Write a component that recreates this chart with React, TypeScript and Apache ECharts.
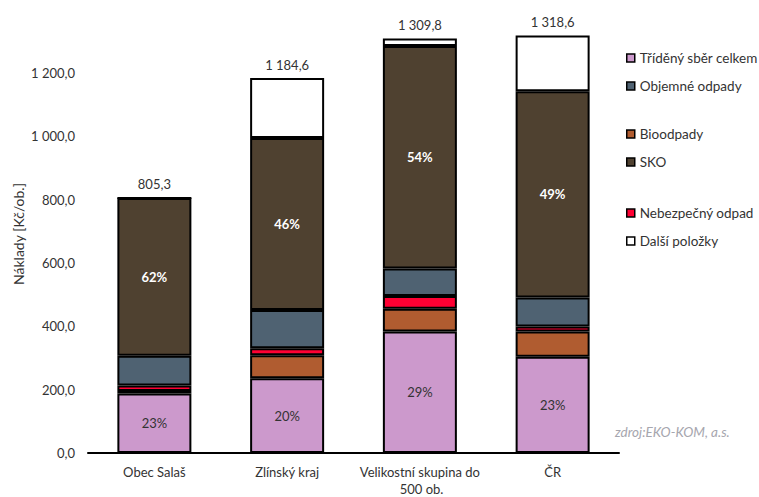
import React, { useEffect, useRef } from 'react';
import * as echarts from 'echarts';

const categories = ['Obec Salaš', 'Zlínský kraj', 'Velikostní skupina do 500 ob.', 'ČR'];
const tridenySber = [188, 236.5, 384, 304];
const bioodpady = [8, 72.5, 72, 80];
const nebezpecny = [17, 22, 40, 16];
const objemne = [94, 121, 87, 91];
const sko = [498.3, 543, 702.8, 652];
const dalsi = [0, 189.6, 24, 175.6];
const totals = [805.3, 1184.6, 1309.8, 1318.6];
const yTickValues = [0, 200, 400, 600, 800, 1000, 1200];

const FONT = 'Lato';
const TEXT = '#333333';

function fmt(v: number): string {
  const s = v.toFixed(1);
  const [i, d] = s.split('.');
  const withSp = i.replace(/\B(?=(\d{3})+(?!\d))/g, ' ');
  return withSp + ',' + d;
}

function pct(arr: number[]) {
  return (p: any) => Math.round((arr[p.dataIndex] / totals[p.dataIndex]) * 100) + '%';
}

export default function App() {
  const ref = useRef<HTMLDivElement>(null);
  useEffect(() => {
    if (!ref.current) return;
    const chart = echarts.init(ref.current, null, { renderer: 'svg' });
    const border = { borderColor: '#000', borderWidth: 2 };
    const base = {
      type: 'bar',
      stack: 'total',
      barWidth: 74,
    };
    const legendCommon = {
      orient: 'vertical',
      left: 626,
      padding: 0,
      itemWidth: 8,
      itemHeight: 8,
      itemGap: 14,
      icon: 'rect',
      itemStyle: { borderColor: '#000', borderWidth: 1.5 },
      textStyle: { fontFamily: FONT, fontSize: 13.5, color: TEXT, lineHeight: 14, padding: [0, 0, 0, 0] },
      selectedMode: false,
    };
    chart.setOption({
      animation: false,
      backgroundColor: '#fff',
      textStyle: { fontFamily: FONT },
      grid: { left: 88, right: 140, top: 32, height: 425.6, containLabel: false },
      legend: [
        { ...legendCommon, top: 51, data: ['Tříděný sběr celkem', 'Objemné odpady'] },
        { ...legendCommon, top: 127, data: ['Bioodpady', 'SKO'] },
        { ...legendCommon, top: 206, data: ['Nebezpečný odpad', 'Další položky'] },
      ],
      xAxis: {
        type: 'category',
        data: categories,
        axisLine: { lineStyle: { color: '#000', width: 2 } },
        axisTick: { show: false },
        axisLabel: {
          fontFamily: FONT,
          fontSize: 13,
          color: TEXT,
          margin: 10,
          width: 132,
          overflow: 'break',
          lineHeight: 17,
          interval: 0,
        },
      },
      yAxis: {
        type: 'value',
        min: 0,
        max: 1330,
        interval: 200,
        splitLine: { show: false },
        axisLine: { show: false },
        axisTick: { show: false },
        axisLabel: {
          fontFamily: FONT,
          fontSize: 13,
          color: TEXT,
          margin: 13,
          formatter: (v: number) => (yTickValues.indexOf(v) >= 0 ? fmt(v) : ''),
        },
      },
      series: [
        {
          ...base,
          name: 'Tříděný sběr celkem',
          data: tridenySber,
          itemStyle: { color: '#CC99CC', ...border },
          label: {
            show: true,
            position: 'inside',
            formatter: pct(tridenySber),
            color: TEXT,
            fontFamily: FONT,
            fontSize: 13,
          },
        },
        { ...base, name: 'Bioodpady', data: bioodpady, itemStyle: { color: '#B05C30', ...border } },
        { ...base, name: 'Nebezpečný odpad', data: nebezpecny, itemStyle: { color: '#FF0033', ...border } },
        { ...base, name: 'Objemné odpady', data: objemne, itemStyle: { color: '#4F6272', ...border } },
        {
          ...base,
          name: 'SKO',
          data: sko,
          itemStyle: { color: '#4F4130', ...border },
          label: {
            show: true,
            position: 'inside',
            formatter: pct(sko),
            color: '#fff',
            fontWeight: 'bold',
            fontFamily: FONT,
            fontSize: 13,
          },
        },
        {
          ...base,
          name: 'Další položky',
          data: dalsi,
          itemStyle: { color: '#FFFFFF', ...border },
          label: {
            show: true,
            position: 'top',
            distance: 7,
            formatter: (p: any) => fmt(totals[p.dataIndex]),
            color: TEXT,
            fontFamily: FONT,
            fontSize: 13,
          },
        },
      ],
      graphic: [
        {
          type: 'text',
          x: 18,
          y: 234,
          rotation: Math.PI / 2,
          style: {
            text: 'Náklady [Kč/ob.]',
            fontFamily: FONT,
            fontSize: 14,
            fill: TEXT,
            align: 'center',
            verticalAlign: 'middle',
          },
        },
        {
          type: 'text',
          x: 615,
          y: 432,
          style: {
            text: 'zdroj:EKO-KOM, a.s.',
            fontFamily: FONT,
            fontSize: 13.5,
            fontStyle: 'italic',
            fill: '#A6A6AE',
            align: 'left',
            verticalAlign: 'middle',
          },
        },
      ],
    });
    return () => chart.dispose();
  }, []);
  return (
    <div
      ref={ref}
      style={{ position: 'absolute', left: 0, top: 0, width: 759, height: 497 }}
    />
  );
}
